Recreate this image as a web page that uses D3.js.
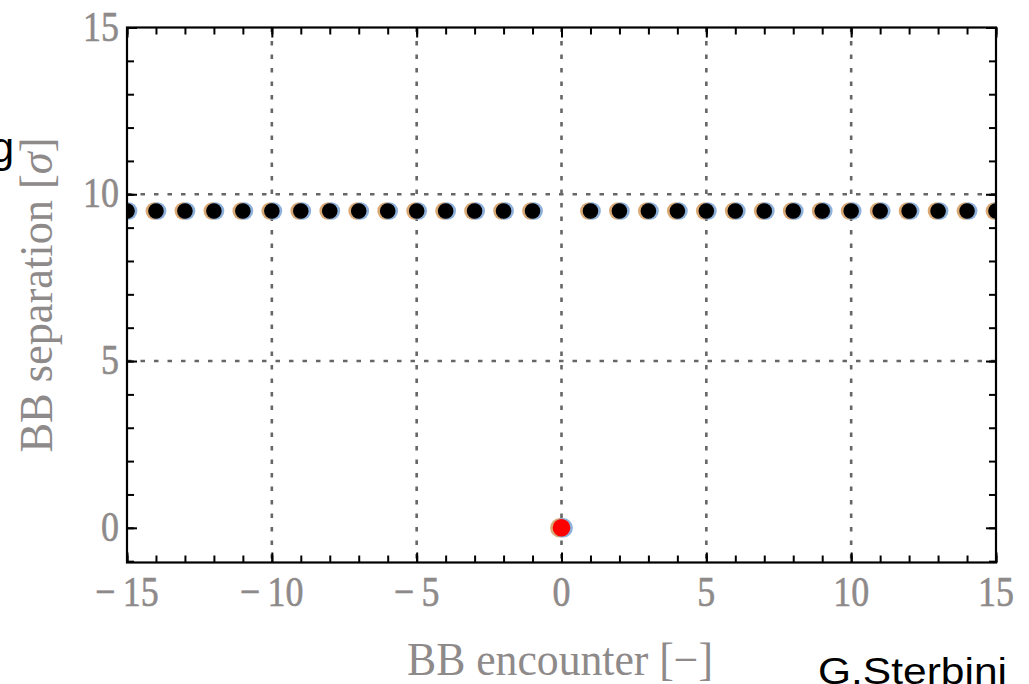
<!DOCTYPE html>
<html>
<head>
<meta charset="utf-8">
<script src="https://cdn.jsdelivr.net/npm/d3@7"></script>
<style>
  body { margin: 0; background: #fff; }
  svg { display: block; }
</style>
</head>
<body>
<svg id="chart" width="1029" height="684"></svg>
<script>
// beam-beam encounters (long range) and the head-on one at the IP
var encounters = [-15, -14, -13, -12, -11, -10, -9, -8, -7, -6, -5, -4, -3, -2, -1,
                  1, 2, 3, 4, 5, 6, 7, 8, 9, 10, 11, 12, 13, 14, 15];
var separations = [9.5, 9.5, 9.5, 9.5, 9.5, 9.5, 9.5, 9.5, 9.5, 9.5, 9.5, 9.5, 9.5, 9.5, 9.5,
                   9.5, 9.5, 9.5, 9.5, 9.5, 9.5, 9.5, 9.5, 9.5, 9.5, 9.5, 9.5, 9.5, 9.5, 9.5];
var headOnEncounter = [0];
var headOnSeparation = [0];

var xTicks = [-15, -10, -5, 0, 5, 10, 15];
var xTickLabels = ["\u2212\u200915", "\u2212\u200910", "\u2212\u20095", "0", "5", "10", "15"];
var yTicks = [0, 5, 10, 15];
var yTickLabels = ["0", "5", "10", "15"];
var xGrid = [-10, -5, 0, 5, 10];
var yGrid = [5, 10];

var svg = d3.select("#chart");

var x = d3.scaleLinear().domain([-15, 15]).range([127, 996]);
var y = d3.scaleLinear().domain([-1.04, 15]).range([562.5, 27.5]);

var pLeft = x.range()[0], pRight = x.range()[1];
var pTop = y.range()[1], pBottom = y.range()[0];

// grid lines (dotted gray)
svg.append("g").selectAll("line").data(xGrid).enter().append("line")
    .attr("x1", function(d) { return x(d); })
    .attr("x2", function(d) { return x(d); })
    .attr("y1", pTop).attr("y2", pBottom)
    .attr("stroke", "#666").attr("stroke-width", 2.6)
    .attr("stroke-dasharray", "4.5,9");
svg.append("g").selectAll("line").data(yGrid).enter().append("line")
    .attr("y1", function(d) { return y(d); })
    .attr("y2", function(d) { return y(d); })
    .attr("x1", pLeft).attr("x2", pRight)
    .attr("stroke", "#666").attr("stroke-width", 2.6)
    .attr("stroke-dasharray", "4.5,9");

// points, clipped to the frame
svg.append("clipPath").attr("id", "plotClip").append("rect")
    .attr("x", pLeft).attr("y", pTop)
    .attr("width", pRight - pLeft).attr("height", pBottom - pTop);

var pts = svg.append("g").attr("clip-path", "url(#plotClip)");

function drawDots(xs, ys, core, r) {
    var g = pts.append("g");
    var d = xs.map(function(v, i) { return [v, ys[i]]; });
    g.selectAll(".ho").data(d).enter().append("circle")
        .attr("cx", function(p) { return x(p[0]) - 1.6; })
        .attr("cy", function(p) { return y(p[1]); })
        .attr("r", r + 1).attr("fill", "#d59a5c").attr("opacity", 0.85);
    g.selectAll(".hb").data(d).enter().append("circle")
        .attr("cx", function(p) { return x(p[0]) + 1.6; })
        .attr("cy", function(p) { return y(p[1]); })
        .attr("r", r + 1).attr("fill", "#7aa3d6").attr("opacity", 0.85);
    g.selectAll(".c").data(d).enter().append("circle")
        .attr("cx", function(p) { return x(p[0]); })
        .attr("cy", function(p) { return y(p[1]); })
        .attr("r", r).attr("fill", core);
}
drawDots(encounters, separations, "#000", 7.8);
drawDots(headOnEncounter, headOnSeparation, "#ff0000", 8.8);

// frame ticks, pointing inwards on all four sides
function styleAxis(g) {
    g.select(".domain").remove();
    g.selectAll("line").attr("stroke", "#000").attr("stroke-width", 2);
}
var xMinor = d3.range(-15, 16, 1);
var yMinor = d3.range(-1, 16, 1);

svg.append("g").attr("transform", "translate(0," + pBottom + ")")
    .call(d3.axisBottom(x).tickValues(xMinor).tickSize(-7).tickFormat("")).call(styleAxis);
svg.append("g").attr("transform", "translate(0," + pBottom + ")")
    .call(d3.axisBottom(x).tickValues(xTicks).tickSize(-10).tickFormat("")).call(styleAxis);
svg.append("g").attr("transform", "translate(0," + pTop + ")")
    .call(d3.axisTop(x).tickValues(xMinor).tickSize(-7).tickFormat("")).call(styleAxis);
svg.append("g").attr("transform", "translate(0," + pTop + ")")
    .call(d3.axisTop(x).tickValues(xTicks).tickSize(-10).tickFormat("")).call(styleAxis);
svg.append("g").attr("transform", "translate(" + pLeft + ",0)")
    .call(d3.axisLeft(y).tickValues(yMinor).tickSize(-7).tickFormat("")).call(styleAxis);
svg.append("g").attr("transform", "translate(" + pLeft + ",0)")
    .call(d3.axisLeft(y).tickValues(yTicks).tickSize(-10).tickFormat("")).call(styleAxis);
svg.append("g").attr("transform", "translate(" + pRight + ",0)")
    .call(d3.axisRight(y).tickValues(yMinor).tickSize(-7).tickFormat("")).call(styleAxis);
svg.append("g").attr("transform", "translate(" + pRight + ",0)")
    .call(d3.axisRight(y).tickValues(yTicks).tickSize(-10).tickFormat("")).call(styleAxis);

// frame
svg.append("rect")
    .attr("x", pLeft).attr("y", pTop)
    .attr("width", pRight - pLeft).attr("height", pBottom - pTop)
    .attr("fill", "none").attr("stroke", "#000").attr("stroke-width", 2.2);

// tick labels (serif, a bit stretched vertically as in the pasted image)
var labelFont = "'Liberation Serif', 'DejaVu Serif', serif";
var labelColor = "#8e8a8a";

svg.append("g").selectAll("text").data(xTicks).enter().append("text")
    .attr("transform", function(d) { return "translate(" + x(d) + ",606) scale(1,1.2)"; })
    .attr("text-anchor", "middle")
    .attr("font-family", labelFont).attr("font-size", 36)
    .attr("fill", labelColor).attr("stroke", "#8e8a8a").attr("stroke-width", 0.5)
    .text(function(d, i) { return xTickLabels[i]; });

svg.append("g").selectAll("text").data(yTicks).enter().append("text")
    .attr("transform", function(d) { return "translate(119," + (y(d) + 13) + ") scale(1,1.2)"; })
    .attr("text-anchor", "end")
    .attr("font-family", labelFont).attr("font-size", 36)
    .attr("fill", labelColor).attr("stroke", "#8e8a8a").attr("stroke-width", 0.5)
    .text(function(d, i) { return yTickLabels[i]; });

// axis titles
svg.append("text")
    .attr("transform", "translate(560,675) scale(1,1.15)")
    .attr("text-anchor", "middle")
    .attr("font-family", labelFont).attr("font-size", 40)
    .attr("fill", labelColor)
    .attr("textLength", 306).attr("lengthAdjust", "spacingAndGlyphs")
    .text("BB encounter [\u2212]");

var yt = svg.append("text")
    .attr("transform", "translate(52,295) rotate(-90) scale(1,1.15)")
    .attr("text-anchor", "middle")
    .attr("font-family", labelFont).attr("font-size", 40)
    .attr("fill", labelColor)
    .attr("textLength", 315).attr("lengthAdjust", "spacingAndGlyphs");
yt.append("tspan").text("BB separation [");
yt.append("tspan").attr("font-style", "italic").text("\u03c3");
yt.append("tspan").text("]");

// slide text around the pasted plot
svg.append("text")
    .attr("x", 14).attr("y", 162)
    .attr("text-anchor", "end")
    .attr("font-family", "'Liberation Sans', Arial, sans-serif").attr("font-size", 42)
    .attr("fill", "#000")
    .text("g");

svg.append("text")
    .attr("x", 818).attr("y", 684)
    .attr("font-family", "'Liberation Sans', Arial, sans-serif").attr("font-size", 36)
    .attr("fill", "#000")
    .attr("textLength", 189).attr("lengthAdjust", "spacingAndGlyphs")
    .text("G.Sterbini");
</script>
</body>
</html>
